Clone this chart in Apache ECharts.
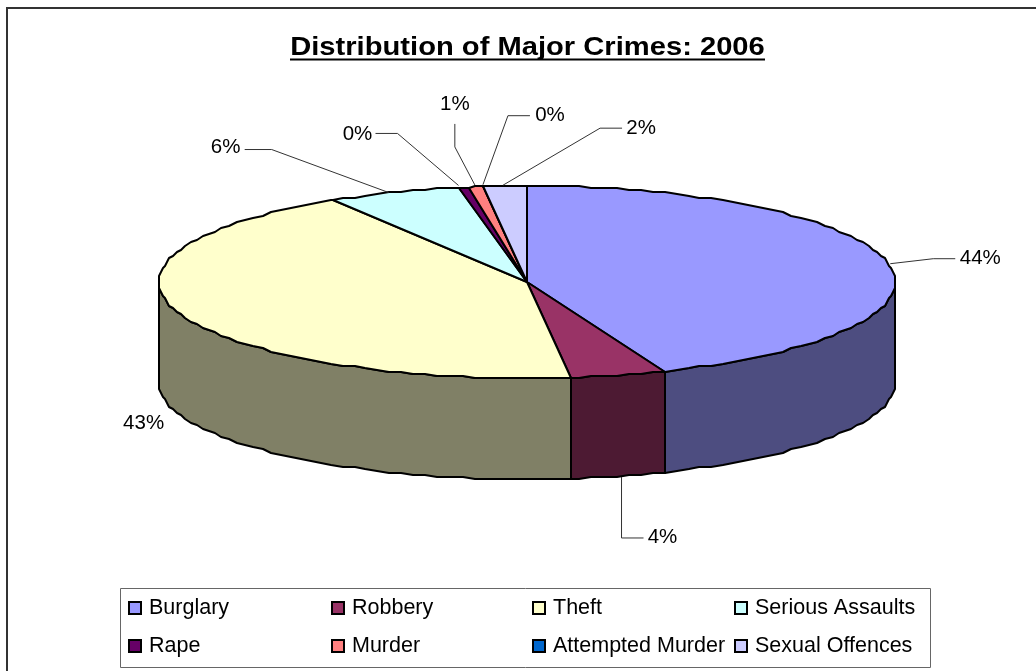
<!DOCTYPE html>
<html><head><meta charset="utf-8">
<style>html,body{margin:0;padding:0;background:#fff}#c{width:1036px;height:671px}</style>
<script src="https://cdn.jsdelivr.net/npm/echarts@6/dist/echarts.min.js"></script>
</head><body><div id="c"></div>
<script>
// ---- data ----
const titleText = 'Distribution of Major Crimes: 2006';
const categories = ['Burglary','Robbery','Theft','Serious Assaults','Rape','Murder','Attempted Murder','Sexual Offences'];
const shares = [43.9,4.2,43.1,5.8,0.48,0.6,0.02,1.9];
const colors = ['#9999FF','#993366','#FFFFCC','#CCFFFF','#660066','#FF8080','#0066CC','#CCCCFF'];
const wallColors = ['#4D4D80','#4D1A33','#808066','#668080','#330033','#804040','#003366','#666680'];
// ---- layout (not data) ----
const CX=527, CY=282, RX=368, RY=96, DEPTH=101;
// leader polyline + label, as offsets from the anchor on the slice's rim
const leaders = [
  {start:[2,0],  elbow:[45,-5],   end:[67,-5],   text:[92,-5]},
  {start:[3,1],  elbow:[3,62],    end:[25,62],   text:[44,61]},
  {start:null,   elbow:null,      end:null,      text:[-36,9]},
  {start:[-5,0], elbow:[-122,-43],end:[-149,-43],text:[-168,-45]},
  {start:[-5,-2],elbow:[-66,-54], end:[-88,-54], text:[-106,-53]},
  {start:[-1,-2],elbow:[-21,-40], end:[-21,-63], text:[-21,-83]},
  {start:[0,-2], elbow:[25,-71],  end:[47,-71],  text:[67,-71]},
  {start:[-2,-1],elbow:[95,-58],  end:[117,-58], text:[136,-58]}
];
const FONT='"Liberation Sans", Arial, sans-serif';
const total = shares.reduce((a,b)=>a+b,0);
const starts = shares.reduce((acc,v)=>{acc.push(acc[acc.length-1]+v);return acc;},[0]);
const ang = v => v/total*2*Math.PI;
const snap = (v,g)=>Math.round(v/g)*g;
const pt = (a,dz=0)=>[CX+snap(RX*Math.sin(a),2), CY+snap(-RY*Math.cos(a),2)+dz];
const STEP=Math.PI/90;
function arc(a0,a1,dz){
  const out=[pt(a0,dz)];
  for(let k=Math.ceil(a0/STEP+1e-6);k*STEP<a1-1e-6;k++) out.push(pt(k*STEP,dz));
  out.push(pt(a1,dz));
  return out;
}
function renderSlice(idx){
  return function(params,api){
    const value=api.value(0);
    const a0=ang(starts[idx]), a1=ang(starts[idx]+value), mid=(a0+a1)/2;
    const children=[];
    const lo=Math.max(a0,Math.PI/2), hi=Math.min(a1,Math.PI*1.5);
    if(hi>lo){
      const pts=arc(lo,hi,0).concat(arc(lo,hi,DEPTH).reverse());
      children.push({type:'polygon',z2:1,shape:{points:pts},
        style:{fill:wallColors[idx],stroke:'#000',lineWidth:2,lineJoin:'round'}});
    }
    children.push({type:'polygon',z2:2,shape:{points:[[CX,CY]].concat(arc(a0,a1,0))},
      style:{fill:colors[idx],stroke:'#000',lineWidth:2,lineJoin:'round'}});
    const inFront=mid>Math.PI/2&&mid<Math.PI*1.5;
    const anchor=[CX+RX*Math.sin(mid), CY-RY*Math.cos(mid)+(inFront?DEPTH:0)];
    const L=leaders[idx];
    const at=o=>[anchor[0]+o[0],anchor[1]+o[1]];
    if(L.elbow){
      children.push({type:'polyline',z2:3,shape:{points:[at(L.start),at(L.elbow),at(L.end)]},
        style:{fill:null,stroke:'#333',lineWidth:1}});
    }
    children.push({type:'text',z2:4,x:anchor[0]+L.text[0],y:anchor[1]+L.text[1],
      style:{text:Math.round(value/total*100)+'%',fill:'#000',
        font:'20.5px '+FONT,align:'center',verticalAlign:'middle'}});
    return {type:'group',children};
  };
}
const legendColumns=[[0,4,128],[1,5,331],[2,6,532],[3,7,734]];
const option={
  animation:false,
  backgroundColor:'#fff',
  legend:legendColumns.map(c=>({
    orient:'vertical',left:c[2],top:596,padding:0,itemGap:14,itemWidth:12,itemHeight:12,
    data:[categories[c[0]],categories[c[1]]],icon:'rect',selectedMode:false,
    itemStyle:{borderColor:'#000',borderWidth:2},
    textStyle:{fontFamily:FONT,fontSize:21.5,color:'#000',padding:[0,0,0,3],height:24,lineHeight:24}
  })),
  graphic:[
    {type:'rect',silent:true,z:-1,shape:{x:7,y:8,width:1100,height:760},style:{fill:'#fff',stroke:'#333',lineWidth:2}},
    {type:'rect',silent:true,z:-1,shape:{x:120.5,y:588.5,width:810,height:79},style:{fill:'#fff',stroke:'#666',lineWidth:1}},
    {type:'text',silent:true,x:527.5,y:47.5,scaleX:1.1,
      style:{text:titleText,font:'bold 26.5px '+FONT,fill:'#000',align:'center',verticalAlign:'middle'}},
    {type:'line',silent:true,shape:{x1:290,y1:59.5,x2:765,y2:59.5},style:{stroke:'#000',lineWidth:2}}
  ],
  series:categories.map((name,i)=>({
    type:'custom',name,coordinateSystem:'none',
    itemStyle:{color:colors[i]},
    renderItem:renderSlice(i),
    data:[[shares[i]]]
  }))
};
const chart=echarts.init(document.getElementById('c'),null,{renderer:'canvas'});
chart.setOption(option);
</script></body></html>
